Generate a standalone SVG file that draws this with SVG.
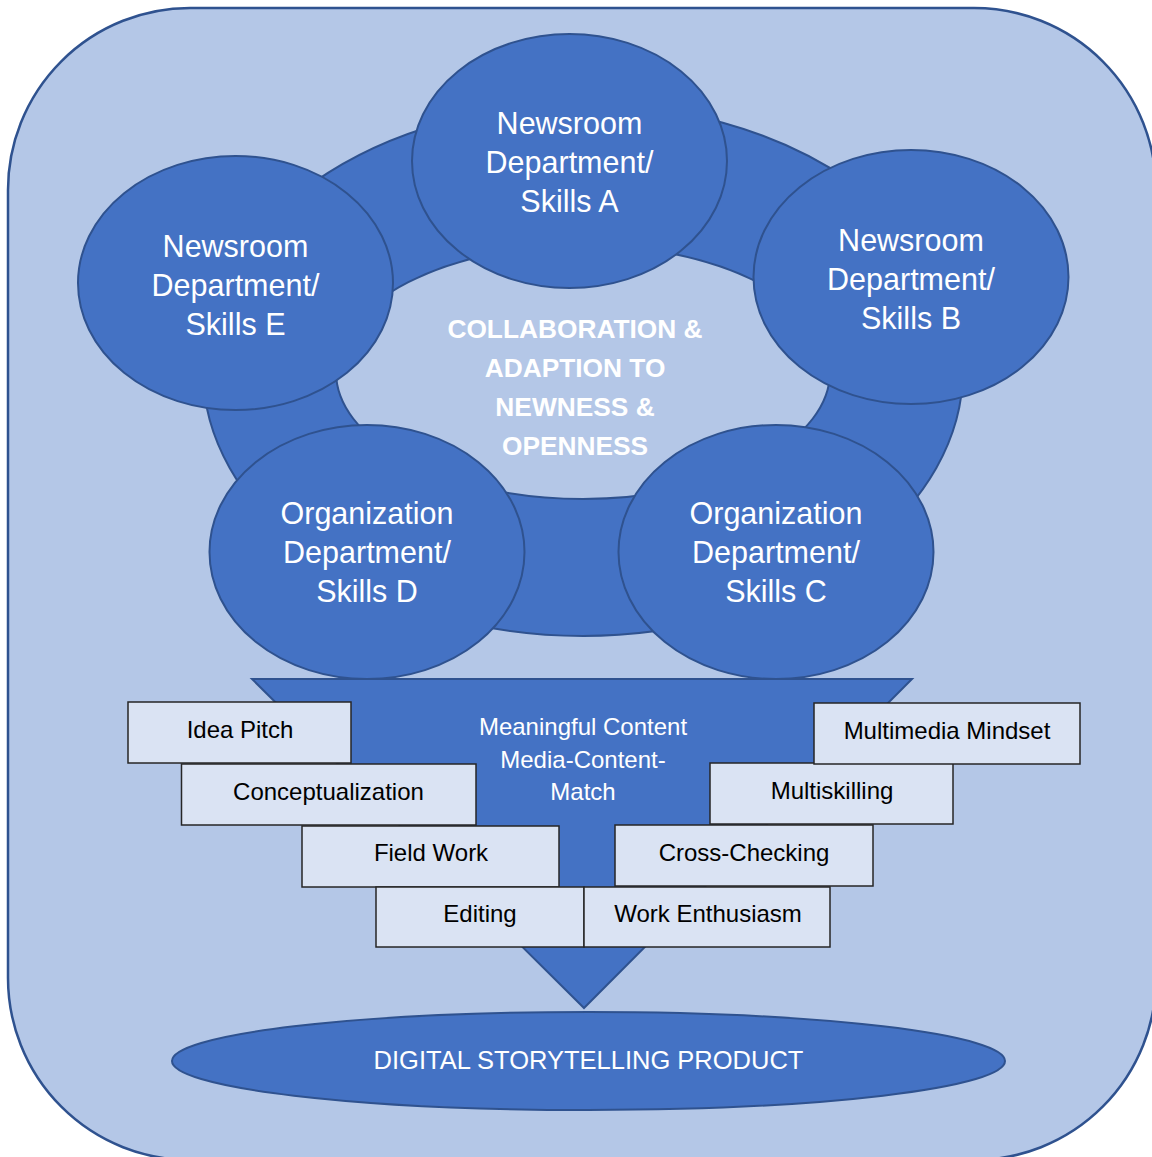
<svg xmlns="http://www.w3.org/2000/svg" width="1152" height="1157" viewBox="0 0 1152 1157">
<style>
.bg{fill:#B4C7E7;stroke:#2F528F;stroke-width:2.5}
.blue{fill:#4472C4;stroke:#2F528F;stroke-width:2}
.box{fill:#DAE3F3;stroke:#262626;stroke-width:1.5}
.wt{font-family:"Liberation Sans",Arial,sans-serif;fill:#FFFFFF;text-anchor:middle}
.ct{font-size:30.5px}
.bt{font-family:"Liberation Sans",Arial,sans-serif;fill:#000000;text-anchor:middle;font-size:24px}
.bold{font-weight:bold;font-size:26.3px}
</style>
<rect class="bg" x="8" y="8" width="1148" height="1152" rx="182" ry="182"/>
<g id="ring">
<path class="blue" fill-rule="evenodd" d="M203,370 A380,266 0 1,0 963,370 A380,266 0 1,0 203,370 Z M336,372 A247,127 0 1,1 830,372 A247,127 0 1,1 336,372 Z"/>
</g>
<g id="center-label">
<text class="wt bold" x="575" y="338">COLLABORATION &amp;</text>
<text class="wt bold" x="575" y="377">ADAPTION TO</text>
<text class="wt bold" x="575" y="416">NEWNESS &amp;</text>
<text class="wt bold" x="575" y="455">OPENNESS</text>
</g>
<g id="node-a">
<ellipse class="blue" cx="569.5" cy="161" rx="157.5" ry="127"/>
<text class="wt ct" x="569.5" y="134">Newsroom</text>
<text class="wt ct" x="569.5" y="173">Department/</text>
<text class="wt ct" x="569.5" y="212">Skills A</text>
</g>
<g id="node-b">
<ellipse class="blue" cx="911" cy="277" rx="157.5" ry="127"/>
<text class="wt ct" x="911" y="251">Newsroom</text>
<text class="wt ct" x="911" y="290">Department/</text>
<text class="wt ct" x="911" y="329">Skills B</text>
</g>
<g id="node-e">
<ellipse class="blue" cx="235.5" cy="283" rx="157.5" ry="127"/>
<text class="wt ct" x="235.5" y="257">Newsroom</text>
<text class="wt ct" x="235.5" y="296">Department/</text>
<text class="wt ct" x="235.5" y="335">Skills E</text>
</g>
<g id="node-d">
<ellipse class="blue" cx="367" cy="552" rx="157.5" ry="127"/>
<text class="wt ct" x="367" y="524">Organization</text>
<text class="wt ct" x="367" y="563">Department/</text>
<text class="wt ct" x="367" y="602">Skills D</text>
</g>
<g id="node-c">
<ellipse class="blue" cx="776" cy="552" rx="157.5" ry="127"/>
<text class="wt ct" x="776" y="524">Organization</text>
<text class="wt ct" x="776" y="563">Department/</text>
<text class="wt ct" x="776" y="602">Skills C</text>
</g>
<g id="funnel">
<polygon class="blue" points="252,679 912,679 584,1008"/>
<text class="wt" font-size="24" x="583" y="735">Meaningful Content</text>
<text class="wt" font-size="24" x="583" y="768">Media-Content-</text>
<text class="wt" font-size="24" x="583" y="800">Match</text>
</g>
<g id="box-idea-pitch">
<rect class="box" x="128" y="702" width="223" height="61"/>
<text class="bt" x="240" y="738">Idea Pitch</text>
</g>
<g id="box-conceptualization">
<rect class="box" x="181.5" y="764" width="294.5" height="61"/>
<text class="bt" x="328.5" y="800">Conceptualization</text>
</g>
<g id="box-field-work">
<rect class="box" x="302" y="826" width="257" height="61"/>
<text class="bt" x="431" y="861">Field Work</text>
</g>
<g id="box-editing">
<rect class="box" x="376" y="887" width="208" height="60"/>
<text class="bt" x="480" y="922">Editing</text>
</g>
<g id="box-work-enthusiasm">
<rect class="box" x="584" y="887" width="246" height="60"/>
<text class="bt" x="708" y="922">Work Enthusiasm</text>
</g>
<g id="box-cross-checking">
<rect class="box" x="615" y="825" width="258" height="61"/>
<text class="bt" x="744" y="861">Cross-Checking</text>
</g>
<g id="box-multiskilling">
<rect class="box" x="710" y="763" width="243" height="61"/>
<text class="bt" x="832" y="799">Multiskilling</text>
</g>
<g id="box-multimedia-mindset">
<rect class="box" x="814" y="703" width="266" height="61"/>
<text class="bt" x="947" y="739">Multimedia Mindset</text>
</g>
<g id="product">
<ellipse class="blue" cx="588.5" cy="1061" rx="416.5" ry="49"/>
<text class="wt" font-size="25.5" x="588.5" y="1069">DIGITAL STORYTELLING PRODUCT</text>
</g>
</svg>
